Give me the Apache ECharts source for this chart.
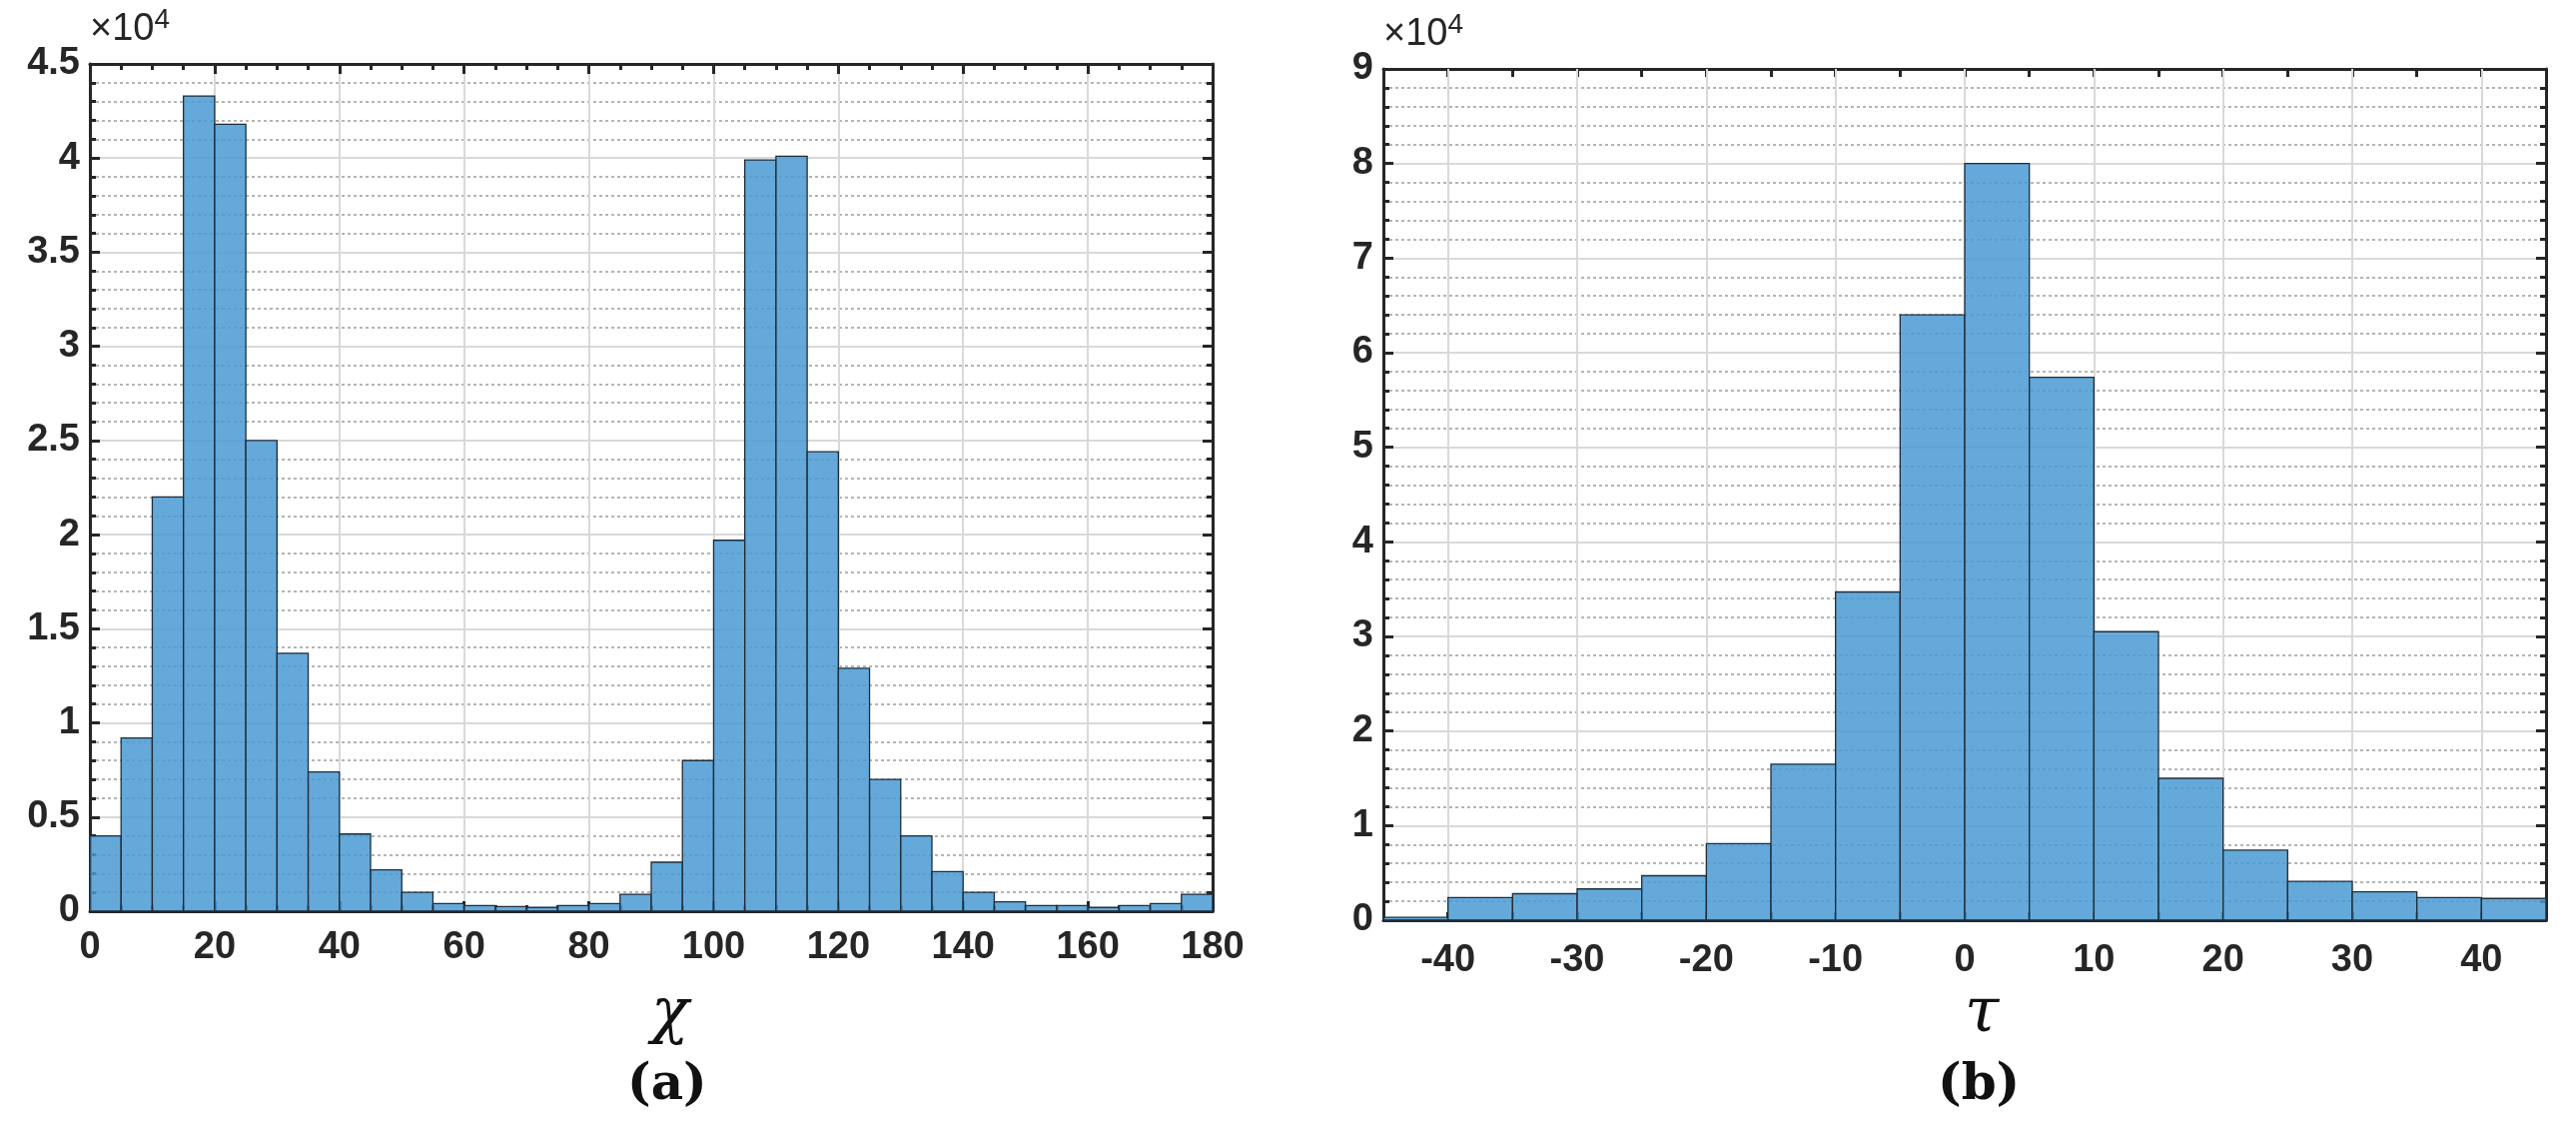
<!DOCTYPE html>
<html><head><meta charset="utf-8">
<script src="https://cdn.jsdelivr.net/npm/echarts@6/dist/echarts.min.js"></script>
<style>html,body{margin:0;padding:0;background:#fff}#c{width:2579px;height:1135px}</style>
</head><body><div id="c"></div>
<script>
const chiBinStart = [0,5,10,15,20,25,30,35,40,45,50,55,60,65,70,75,80,85,90,95,100,105,110,115,120,125,130,135,140,145,150,155,160,165,170,175];
const chiCounts = [4000,9200,22000,43300,41800,25000,13700,7400,4100,2200,1000,400,300,250,200,300,400,900,2600,8000,19700,39900,40100,24400,12900,7000,4000,2100,1000,500,300,300,200,300,400,900];
const tauBinStart = [-45,-40,-35,-30,-25,-20,-15,-10,-5,0,5,10,15,20,25,30,35,40];
const tauCounts = [300,2400,2800,3300,4700,8100,16500,34700,64000,80000,57400,30500,15000,7400,4100,3000,2400,2300];
const tauMajorX = [-40,-30,-20,-10,0,10,20,30,40];
const binWidth = 5;

const FONT = 'Liberation Sans';
const lab = {color:'#262626', fontSize:38, fontWeight:'bold', fontFamily:FONT};
function mkData(starts, counts){ return starts.map((s,i)=>[s, s+binWidth, counts[i]]); }
function renderBar(params, api){
  const a = api.coord([api.value(0), api.value(2)]);
  const b = api.coord([api.value(1), 0]);
  return {type:'rect', shape:{x:a[0], y:a[1], width:b[0]-a[0], height:b[1]-a[1]},
    style:{fill:'rgba(74,154,211,0.85)', stroke:'#1f2d3a', lineWidth:1.3}};
}
const gridLine = {show:true, lineStyle:{color:'#d9d9d9', width:2}};
const minorLine = {show:true, lineStyle:{color:'#b5b5b5', width:2, type:[3,3]}};
function yAxes(gi, max, interval, minorN, fmt){
  return [{gridIndex:gi, type:'value', position:'left', min:0, max:max, interval:interval,
    axisLine:{show:true, onZero:false, lineStyle:{color:'#262626', width:3}},
    axisTick:{show:true, inside:true, length:10, lineStyle:{color:'#262626', width:3}},
    minorTick:{show:true, splitNumber:minorN, length:6, lineStyle:{color:'#262626', width:3}},
    axisLabel:Object.assign({formatter:fmt, margin:10}, lab),
    splitLine:gridLine, minorSplitLine:minorLine,
    name:'×10{s|4}', nameLocation:'end', nameGap:10,
    nameTextStyle:{fontSize:38, color:'#262626', fontFamily:FONT, align:'left', rich:{s:{fontSize:28, verticalAlign:'top', padding:[0,0,20,0], color:'#262626', fontFamily:FONT}}}},
   {gridIndex:gi, type:'value', position:'right', min:0, max:max, interval:interval,
    axisLine:{show:true, onZero:false, lineStyle:{color:'#262626', width:3}},
    axisTick:{show:true, inside:true, length:10, lineStyle:{color:'#262626', width:3}},
    minorTick:{show:true, splitNumber:minorN, length:6, lineStyle:{color:'#262626', width:3}},
    axisLabel:{show:false}, splitLine:{show:false}}];
}
function yFmt(v){ return v===0?'0':String(v/10000); }
const opt = {
  animation:false,
  grid:[{left:90, top:64, width:1124, height:848},{left:1385, top:69, width:1164, height:852}],
  xAxis:[
    {gridIndex:0, type:'value', min:0, max:180, interval:20,
     axisLine:{show:true, onZero:false, lineStyle:{color:'#262626', width:3}},
     axisTick:{show:true, inside:true, length:10, lineStyle:{color:'#262626', width:3}},
     minorTick:{show:true, splitNumber:4, length:6, lineStyle:{color:'#262626', width:3}},
     axisLabel:Object.assign({margin:18}, lab), splitLine:gridLine},
    {gridIndex:0, type:'value', position:'top', min:0, max:180, interval:20,
     axisLine:{show:true, onZero:false, lineStyle:{color:'#262626', width:3}},
     axisTick:{show:true, inside:true, length:10, lineStyle:{color:'#262626', width:3}},
     minorTick:{show:true, splitNumber:4, length:6, lineStyle:{color:'#262626', width:3}},
     axisLabel:{show:false}, splitLine:{show:false}},
    {gridIndex:1, type:'value', min:-45, max:45, interval:5,
     axisLine:{show:true, onZero:false, lineStyle:{color:'#262626', width:3}},
     axisTick:{show:true, inside:true, length:8, lineStyle:{color:'#262626', width:3}},
     axisLabel:Object.assign({margin:22, formatter:v=>(Math.abs(v)%10===0?String(v):'')}, lab), splitLine:{show:false}},
    {gridIndex:1, type:'value', position:'top', min:-45, max:45, interval:5,
     axisLine:{show:true, onZero:false, lineStyle:{color:'#262626', width:3}},
     axisTick:{show:true, inside:true, length:8, lineStyle:{color:'#262626', width:3}},
     axisLabel:{show:false}, splitLine:{show:false}}
  ],
  yAxis:[...yAxes(0, 45000, 5000, 5, yFmt), ...yAxes(1, 90000, 10000, 5, yFmt)],
  series:[
    {type:'custom', xAxisIndex:0, yAxisIndex:0, renderItem:renderBar, data:mkData(chiBinStart, chiCounts), encode:{x:[0,1], y:2}, z:3},
    {type:'custom', xAxisIndex:2, yAxisIndex:2, renderItem:renderBar, data:mkData(tauBinStart, tauCounts), encode:{x:[0,1], y:2}, z:3,
     markLine:{silent:true, symbol:'none', label:{show:false}, lineStyle:{color:'#d9d9d9', width:2, type:'solid'}, z:1,
       data:tauMajorX.map(v=>({xAxis:v}))}}
  ],
  graphic:[
    {type:'text', left:652, top:985, style:{text:'χ', font:'italic 62px "DejaVu Serif"', fill:'#111', textAlign:'center'}},
    {type:'text', left:1967, top:985, style:{text:'τ', font:'italic 62px "DejaVu Serif"', fill:'#111', textAlign:'center'}},
    {type:'text', left:628, top:1062, style:{text:'(a)', font:'bold 50px "DejaVu Serif"', fill:'#111', textAlign:'center'}},
    {type:'text', left:1940, top:1062, style:{text:'(b)', font:'bold 50px "DejaVu Serif"', fill:'#111', textAlign:'center'}}
  ]
};
echarts.init(document.getElementById('c')).setOption(opt);
</script></body></html>
